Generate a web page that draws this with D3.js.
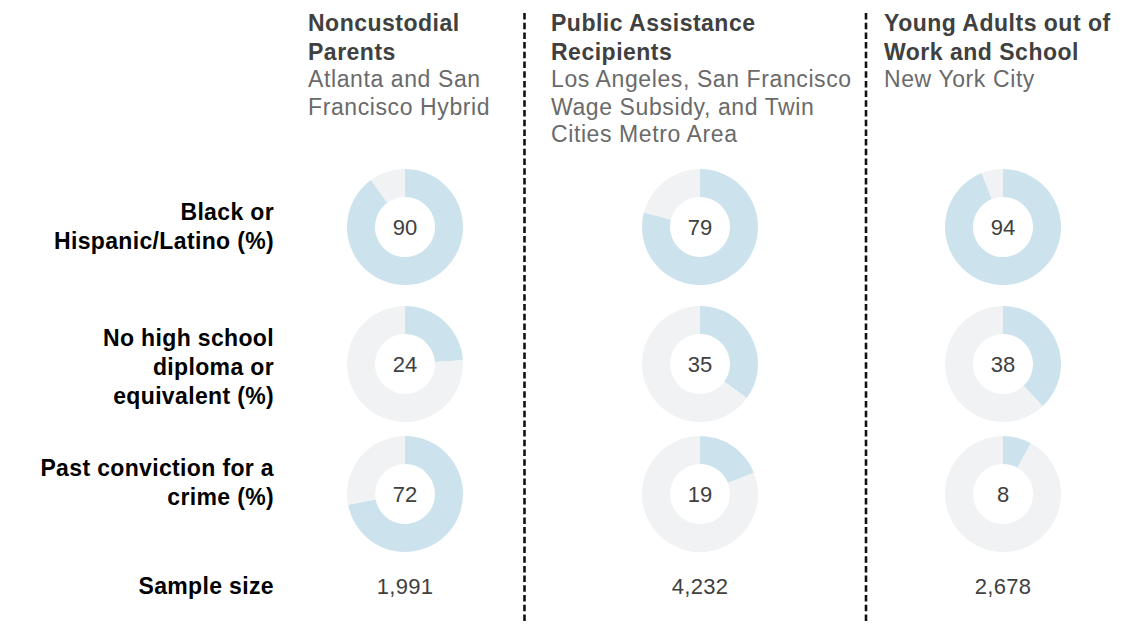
<!DOCTYPE html>
<html>
<head>
<meta charset="utf-8">
<script src="https://cdn.jsdelivr.net/npm/d3@7"></script>
<style>
  body { margin: 0; background: #fff; }
  svg { display: block; font-family: "Liberation Sans", Arial, sans-serif; }
</style>
</head>
<body>
<svg id="chart" width="1140" height="624"></svg>
<script>
// data
const groups = ["Noncustodial Parents", "Public Assistance Recipients", "Young Adults out of Work and School"];
const groupTitles = [
  ["Noncustodial", "Parents"],
  ["Public Assistance", "Recipients"],
  ["Young Adults out of", "Work and School"]
];
const groupSites = [
  ["Atlanta and San", "Francisco Hybrid"],
  ["Los Angeles, San Francisco", "Wage Subsidy, and Twin", "Cities Metro Area"],
  ["New York City"]
];
const measures = [
  ["Black or", "Hispanic/Latino (%)"],
  ["No high school", "diploma or", "equivalent (%)"],
  ["Past conviction for a", "crime (%)"]
];
const blackHispanic = [90, 79, 94];
const noDiploma = [24, 35, 38];
const pastConviction = [72, 19, 8];
const sampleSizes = [1991, 4232, 2678];

const values = [blackHispanic, noDiploma, pastConviction];

// layout
const svg = d3.select("#chart");
const colCenter = d3.scaleOrdinal().domain(groups).range([405, 700, 1003]);
const colLeft = d3.scaleOrdinal().domain(groups).range([308, 551, 884]);
const rowY = d3.scaleOrdinal().domain(d3.range(3)).range([227, 364, 494]);
const labelMid = [226, 367, 482];
const labelRight = 274;
const sampleY = 586;
const rOuter = 58, rInner = 30;

const blue = "#cce3ed", grey = "#f0f2f4";
const dark = "#404040";

// dashed separators
[524.5, 866].forEach(x => {
  svg.append("line")
    .attr("x1", x).attr("x2", x)
    .attr("y1", 13).attr("y2", 624)
    .attr("stroke", "#111")
    .attr("stroke-width", 2.6)
    .attr("stroke-dasharray", "6.5 3.2");
});

// column headings
groups.forEach((g, i) => {
  const t = svg.append("text")
    .attr("x", colLeft(g))
    .attr("font-size", 23);
  groupTitles[i].forEach((line, j) => {
    t.append("tspan")
      .attr("x", colLeft(g))
      .attr("y", 31 + j * 29)
      .attr("font-weight", "bold")
      .attr("fill", dark)
      .attr("letter-spacing", 0.5)
      .text(line);
  });
  const y0 = 31 + groupTitles[i].length * 29 - 2;
  groupSites[i].forEach((line, j) => {
    t.append("tspan")
      .attr("x", colLeft(g))
      .attr("y", y0 + j * 27.5)
      .attr("fill", "#6a6a6a")
      .attr("letter-spacing", 0.6)
      .text(line);
  });
});

// row labels
const lh = 29;
measures.forEach((lines, r) => {
  const t = svg.append("text")
    .attr("text-anchor", "end")
    .attr("font-size", 23)
    .attr("font-weight", "bold")
    .attr("letter-spacing", 0.35)
    .attr("fill", "#000");
  const top = labelMid[r] - (lines.length - 1) * lh / 2;
  lines.forEach((line, j) => {
    t.append("tspan")
      .attr("x", labelRight)
      .attr("y", top + j * lh)
      .attr("dy", "0.35em")
      .text(line);
  });
});

svg.append("text")
  .attr("x", labelRight)
  .attr("y", sampleY)
  .attr("dy", "0.35em")
  .attr("text-anchor", "end")
  .attr("font-size", 23)
  .attr("font-weight", "bold")
  .attr("letter-spacing", 0.35)
  .attr("fill", "#000")
  .text("Sample size");

// donuts
const pie = d3.pie().sort(null).value(d => d);
const arc = d3.arc().innerRadius(rInner).outerRadius(rOuter);

values.forEach((row, r) => {
  row.forEach((v, i) => {
    const g = svg.append("g")
      .attr("transform", `translate(${colCenter(groups[i])},${rowY(r)})`);
    g.selectAll("path")
      .data(pie([v, 100 - v]))
      .join("path")
      .attr("d", arc)
      .attr("fill", (d, k) => k === 0 ? blue : grey);
    g.append("text")
      .attr("text-anchor", "middle")
      .attr("dy", "0.35em")
      .attr("font-size", 22)
      .attr("fill", dark)
      .text(v);
  });
});

// sample sizes
sampleSizes.forEach((n, i) => {
  svg.append("text")
    .attr("x", colCenter(groups[i]))
    .attr("y", sampleY)
    .attr("dy", "0.35em")
    .attr("text-anchor", "middle")
    .attr("font-size", 22)
    .attr("letter-spacing", 0.3)
    .attr("fill", dark)
    .text(d3.format(",")(n));
});
</script>
</body>
</html>
